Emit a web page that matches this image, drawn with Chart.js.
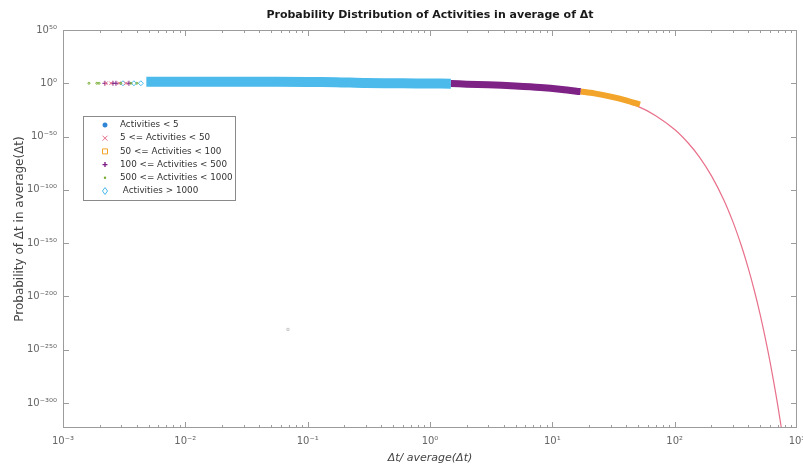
<!DOCTYPE html>
<html>
<head>
<meta charset="utf-8">
<title>Probability Distribution of Activities</title>
<script src="https://cdn.jsdelivr.net/npm/chart.js@4.4.0/dist/chart.umd.min.js"></script>
<style>
  html, body { margin: 0; padding: 0; background: #fff; }
  #wrap { width: 803px; height: 467px; }
</style>
</head>
<body>
<div id="wrap"><canvas id="distChart" width="803" height="467"></canvas></div>
<script>
// x = Δt / average(Δt) (log axis), y = log10 of the probability
const X_TICKS = [-3, -2, -1, 0, 1, 2, 3];          // exponents of 10
const Y_TICKS = [50, 0, -50, -100, -150, -200, -250, -300];
const Y_MIN = -323.5;
const Y_MAX = 50;

const GROUPS = [
  'Activities < 5',
  '5 <= Activities < 50',
  '50 <= Activities < 100',
  '100 <= Activities < 500',
  '500 <= Activities < 1000',
  ' Activities > 1000'
];

// Activities < 5
const lowX = [1.0, 1.2, 1.4, 1.6];
const lowY = [-1.4, -1.5, -1.6, -1.7];

// 5 <= Activities < 50: long tail
const tailX = [1, 2, 5, 10, 20, 30, 50, 70, 100, 130, 160, 200, 250, 300, 350, 400, 450, 500, 550, 600, 650, 700, 745];
const tailY = [-0.43, -0.87, -2.2, -4.3, -8.7, -13, -21.7, -30.4, -43.4, -56.5, -69.5, -86.9, -108.6, -130.3, -152, -173.7, -195.4, -217.1, -238.9, -260.6, -282.3, -304, -323.5];
const crossX = [0.00224, 0.00247, 0.00287, 0.00327];
const crossY = [0, 0, 0, 0];

// 50 <= Activities < 100
const squareBandX = [17, 22, 30, 40, 52];
const squareBandY = [-7.7, -9.5, -12.5, -16, -20];
const squareX = [43, 46, 49];
const squareY = [-16.8, -18, -19.2];

// 100 <= Activities < 500
const plusBandX = [1.48, 2, 3, 5, 8, 12, 17];
const plusBandY = [-0.3, -0.8, -1.4, -2.6, -4, -5.8, -7.8];
const plusX = [0.0022, 0.00256, 0.00271, 0.00346];
const plusY = [0, 0, 0, 0];

// 500 <= Activities < 1000
const dotBandX = [1.57, 2.2, 3.04];
const dotBandY = [-0.2, -0.5, -0.9];
const dotX = [0.00163, 0.00189, 0.00197, 0.00297, 0.00359, 0.00402];
const dotY = [0, 0, 0, 0, 0, 0];

// Activities > 1000
const diamondBandX = [0.0048, 0.01, 0.03, 0.1, 0.17, 0.3, 0.6, 1.0, 1.48];
const diamondBandY = [1.5, 1.5, 1.4, 1.3, 1.0, 0.2, 0, -0.2, -0.4];
const diamondX = [0.00309, 0.0038, 0.00433];
const diamondY = [0, 0, 0];

// lone outlier
const strayX = [0.069];
const strayY = [-231];

const COLORS = ['#2f86d6', '#e8708a', '#f2a52a', '#7e2286', '#77ac30', '#4cbbec'];
const FONT = "'DejaVu Sans', sans-serif";

function pts(xs, ys) {
    return xs.map((x, i) => ({ x: x, y: ys[i] }));
}

function band(xs, ys, color, width) {
    return {
        data: pts(xs, ys), showLine: true, borderColor: color, borderWidth: width,
        pointRadius: 0, borderCapStyle: 'butt', tension: 0.3
    };
}

function marks(xs, ys, color, style, r) {
    return {
        data: pts(xs, ys), showLine: false, pointStyle: style, pointRadius: r,
        borderColor: color, backgroundColor: 'rgba(0,0,0,0)', pointBorderWidth: 1
    };
}

const SUP = { '-': '⁻', '0': '⁰', '1': '¹', '2': '²', '3': '³', '4': '⁴', '5': '⁵', '6': '⁶', '7': '⁷', '8': '⁸', '9': '⁹' };
function pow10Label(e) {
    return '10' + String(e).split('').map(c => SUP[c]).join('');
}

// small marker shapes for the legend box
function drawMarker(ctx, style, cx, cy, r, color) {
    ctx.save();
    ctx.strokeStyle = color;
    ctx.fillStyle = color;
    ctx.lineWidth = 1;
    ctx.beginPath();
    if (style === 'star') {
        ctx.lineWidth = 1.6;
        for (let i = 0; i < 4; i++) {
            const a = i * Math.PI / 4;
            ctx.moveTo(cx + r * Math.cos(a), cy + r * Math.sin(a));
            ctx.lineTo(cx - r * Math.cos(a), cy - r * Math.sin(a));
        }
        ctx.stroke();
    } else if (style === 'x') {
        ctx.moveTo(cx - r, cy - r); ctx.lineTo(cx + r, cy + r);
        ctx.moveTo(cx + r, cy - r); ctx.lineTo(cx - r, cy + r);
        ctx.stroke();
    } else if (style === 'square') {
        ctx.rect(cx - r, cy - r, 2 * r, 2 * r);
        ctx.stroke();
    } else if (style === 'plus') {
        ctx.lineWidth = 1.4;
        ctx.moveTo(cx - r, cy); ctx.lineTo(cx + r, cy);
        ctx.moveTo(cx, cy - r); ctx.lineTo(cx, cy + r);
        ctx.stroke();
    } else if (style === 'dot') {
        ctx.arc(cx, cy, 1.2, 0, Math.PI * 2);
        ctx.fill();
    } else if (style === 'diamond') {
        ctx.moveTo(cx, cy - r - 1); ctx.lineTo(cx + r, cy);
        ctx.lineTo(cx, cy + r + 1); ctx.lineTo(cx - r, cy);
        ctx.closePath();
        ctx.stroke();
    }
    ctx.restore();
}

const LEGEND_MARKS = ['star', 'x', 'square', 'plus', 'dot', 'diamond'];

// box, inward ticks, titles and legend
const decorations = {
    id: 'decorations',
    afterDatasetsDraw(chart) {
        const { ctx, chartArea: a, scales: { x, y } } = chart;
        ctx.save();
        ctx.strokeStyle = '#9c9c9c';
        ctx.lineWidth = 1;
        ctx.strokeRect(a.left + 0.5, a.top + 0.5, a.right - a.left - 1, a.bottom - a.top - 1);

        ctx.beginPath();
        for (let e = X_TICKS[0]; e < X_TICKS[X_TICKS.length - 1]; e++) {
            for (let m = 1; m < 10; m++) {
                const px = Math.round(x.getPixelForValue(m * Math.pow(10, e))) + 0.5;
                const len = m === 1 ? 6 : 3;
                ctx.moveTo(px, a.bottom); ctx.lineTo(px, a.bottom - len);
                ctx.moveTo(px, a.top); ctx.lineTo(px, a.top + len);
            }
        }
        Y_TICKS.forEach(v => {
            const py = Math.round(y.getPixelForValue(v)) + 0.5;
            ctx.moveTo(a.left, py); ctx.lineTo(a.left + 6, py);
            ctx.moveTo(a.right, py); ctx.lineTo(a.right - 6, py);
        });
        ctx.stroke();
        ctx.restore();
    },
    afterDraw(chart) {
        const { ctx, chartArea: a } = chart;
        const cx = (a.left + a.right) / 2;
        ctx.save();
        ctx.fillStyle = '#1a1a1a';
        ctx.textAlign = 'center';
        ctx.textBaseline = 'middle';
        ctx.font = 'bold 11px ' + FONT;
        ctx.fillText('Probability Distribution of Activities in average of Δt', cx, 15);

        ctx.fillStyle = '#444';
        ctx.font = 'oblique 11px ' + FONT;
        ctx.fillText('Δt/ average(Δt)', cx, 458);

        ctx.translate(20, (a.top + a.bottom) / 2);
        ctx.rotate(-Math.PI / 2);
        ctx.font = '12px ' + FONT;
        ctx.fillText('Probability of Δt in average(Δt)', 0, 0);
        ctx.restore();

        // legend
        ctx.save();
        ctx.fillStyle = '#fff';
        ctx.strokeStyle = '#8a8a8a';
        ctx.lineWidth = 1;
        ctx.fillRect(83, 116, 152, 84);
        ctx.strokeRect(83.5, 116.5, 152, 84);
        ctx.font = '8.8px ' + FONT;
        ctx.textAlign = 'left';
        ctx.textBaseline = 'middle';
        GROUPS.forEach((label, i) => {
            const ly = 125 + i * 13.2;
            drawMarker(ctx, LEGEND_MARKS[i], 105, ly, 2.5, COLORS[i]);
            ctx.fillStyle = '#333';
            ctx.fillText(label, 120, ly);
        });
        ctx.restore();
    }
};

const datasets = [
    band(diamondBandX, diamondBandY, COLORS[5], 10),
    band(plusBandX, plusBandY, COLORS[3], 7),
    band(dotBandX, dotBandY, COLORS[4], 1.8),
    band(lowX, lowY, '#6f86a8', 1.2),
    band(squareBandX, squareBandY, COLORS[2], 6),
    band(tailX, tailY, COLORS[1], 1.2),
    marks(squareX, squareY, '#ffe3a8', 'rect', 1.6),
    marks(dotX, dotY, COLORS[4], 'circle', 1),
    marks(crossX, crossY, COLORS[1], 'crossRot', 2.5),
    marks(plusX, plusY, COLORS[3], 'cross', 2.5),
    marks(diamondX, diamondY, COLORS[5], 'rectRot', 2.5),
    marks(strayX, strayY, '#c8c8c8', 'rect', 1.5)
];

new Chart(document.getElementById('distChart'), {
    type: 'scatter',
    data: { datasets: datasets },
    plugins: [decorations],
    options: {
        responsive: false,
        animation: false,
        layout: { padding: { top: 30, right: 6, bottom: 0, left: 0 } },
        plugins: { legend: { display: false }, tooltip: { enabled: false } },
        scales: {
            x: {
                type: 'logarithmic',
                min: 0.001,
                max: 1000,
                grid: { display: false, drawTicks: false },
                border: { display: false },
                afterBuildTicks: s => { s.ticks = X_TICKS.map(e => ({ value: Math.pow(10, e) })); },
                afterFit: s => { s.height = 39; s.paddingLeft = 0; s.paddingRight = 0; },
                ticks: {
                    padding: 7,
                    maxRotation: 0,
                    autoSkip: false,
                    color: '#666',
                    font: { family: FONT, size: 10 },
                    callback: v => pow10Label(Math.round(Math.log10(v)))
                }
            },
            y: {
                type: 'linear',
                min: Y_MIN,
                max: Y_MAX,
                grid: { display: false, drawTicks: false },
                border: { display: false },
                afterBuildTicks: s => { s.ticks = Y_TICKS.map(v => ({ value: v })); },
                afterFit: s => { s.width = 63; s.paddingTop = 0; s.paddingBottom = 0; },
                ticks: {
                    padding: 6,
                    autoSkip: false,
                    color: '#666',
                    font: { family: FONT, size: 10 },
                    callback: v => pow10Label(v)
                }
            }
        }
    }
});
</script>
</body>
</html>
